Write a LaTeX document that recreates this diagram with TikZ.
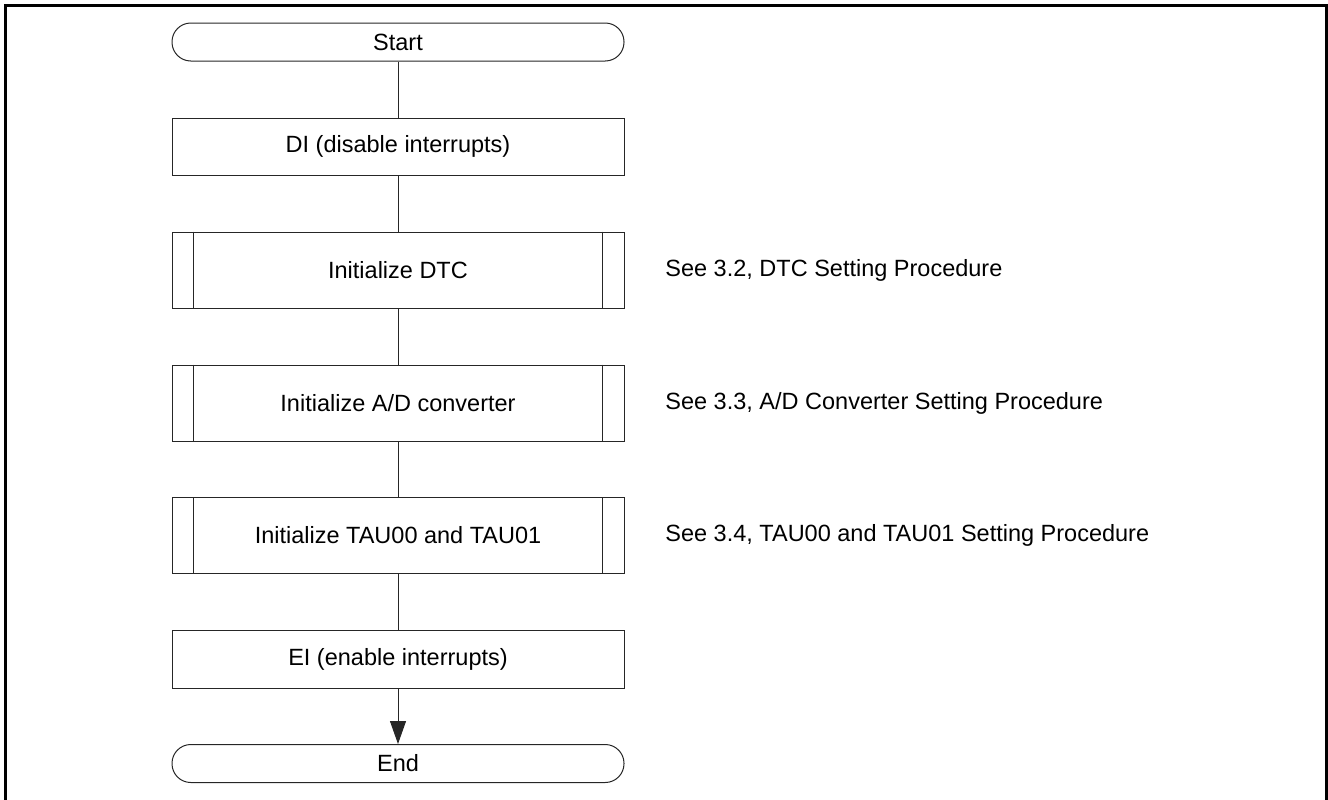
\documentclass[tikz,border=0pt]{standalone}
\usepackage{fontspec}
\setmainfont{Liberation Sans}
\usetikzlibrary{arrows.meta}

\begin{document}
\begin{tikzpicture}[x=0.5pt,y=-0.5pt,
  every node/.style={font=\fontsize{11.75}{14}\selectfont, inner sep=0pt, text=black},
  flow/.style={draw=black!85, line width=0.5pt},
  term/.style={flow, rectangle, rounded corners=9.4pt, minimum width=226pt, minimum height=19pt},
  proc/.style={flow, rectangle, minimum width=226pt, minimum height=28.5pt},
  subproc/.style={flow, rectangle, minimum width=226pt, minimum height=38pt},
  note/.style={anchor=west},
  link/.style={draw=black!85, line width=0.5pt},
  frame/.style={draw=black, line width=1.5pt}]

\useasboundingbox (0,0) rectangle (1328,799);
\draw[frame] (5.3,5.3) rectangle (1326.7,806);

% flow steps
\node[term]    (start) at (398,42)    {Start};
\node[proc]    (di)    at (398,146.5) {DI (disable interrupts)};
\node[subproc] (dtc)   at (398,270)   {Initialize DTC};
\node[subproc] (adc)   at (398,403)   {Initialize A/D converter};
\node[subproc] (tau)   at (398,535.5) {Initialize TAU00 and TAU01};
\node[proc, minimum height=29pt] (ei) at (398,659) {EI (enable interrupts)};
\node[term]    (end)   at (398,763.5) {End};

% side bars of the predefined-process boxes
\foreach \n in {dtc,adc,tau}{
  \draw[link] ([xshift=11pt]\n.north west) -- ([xshift=11pt]\n.south west);
  \draw[link] ([xshift=-11pt]\n.north east) -- ([xshift=-11pt]\n.south east);
}

% connectors
\draw[link] (start) -- (di);
\draw[link] (di) -- (dtc);
\draw[link] (dtc) -- (adc);
\draw[link] (adc) -- (tau);
\draw[link] (tau) -- (ei);
\draw[link, -{Triangle[length=11.5pt,width=8pt]}] (ei) -- (end);

% references
\node[note] (ndtc) at (665,270)   {See 3.2, DTC Setting Procedure};
\node[note] (nadc) at (665,403)   {See 3.3, A/D Converter Setting Procedure};
\node[note] (ntau) at (665,535.5) {See 3.4, TAU00 and TAU01 Setting Procedure};
\end{tikzpicture}
\end{document}
